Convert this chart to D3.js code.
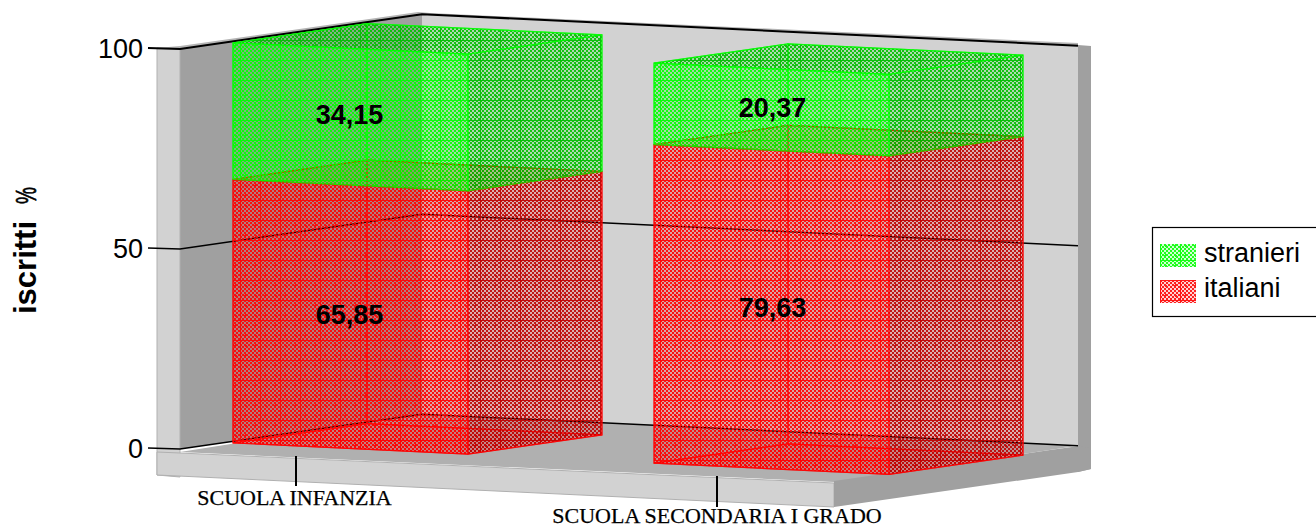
<!DOCTYPE html>
<html><head><meta charset="utf-8">
<script src="https://cdn.jsdelivr.net/npm/d3@7/dist/d3.min.js"></script>
<style>html,body{margin:0;padding:0;background:#fff}svg{display:block}
text{font-family:"Liberation Sans",Arial,sans-serif;fill:#000}</style></head><body>
<script>
const categories = ["SCUOLA INFANZIA", "SCUOLA SECONDARIA I GRADO"];
const italiani = [65.85, 79.63];
const stranieri = [34.15, 20.37];
const valueLabels = [["65,85", "79,63"], ["34,15", "20,37"]];
const yTicks = [0, 50, 100];
const seriesNames = ["italiani", "stranieri"];
const seriesColors = {italiani: "#ff0000", stranieri: "#00ff00"};

const W = 1316, H = 528;
const svg = d3.select("body").append("svg").attr("width", W).attr("height", H);
const defs = svg.append("defs");

const y = d3.scaleLinear().domain([0, 100]).range([449, 49]);
const u = d3.scaleBand().domain(categories).range([8, 664]).paddingInner(0.442);
const X0 = 180, SU = 0.048, SV = 0.144;
const DEPTH_FRONT = 45, DEPTH_BAR = 134, DEPTH = 242, UMAX = 656;
const P = (a, b, v) => [X0 + a + b, y(v) + a * SU - b * SV];
const pts = arr => arr.map(p => p.join(",")).join(" ");

function makePattern(id, color, dark) {
  const p = defs.append("pattern").attr("id", id).attr("patternUnits", "userSpaceOnUse")
    .attr("width", 20).attr("height", 20);
  p.append("rect").attr("width", 20).attr("height", 20).attr("fill", color).attr("fill-opacity", dark ? 0.12 : 0.17);
  for (let i = 0; i < 20; i++) for (let j = 0; j < 20; j++) {
    const cx = Math.abs((i % 10) - 5), cy = Math.abs((j % 10) - 5);
    const plus = (cx <= 1 && cy === 0) || (cy <= 1 && cx === 0);
    const on = (Math.floor(i / 2) + Math.floor(j / 2)) % 2 === 0 || plus;
    const line = i === 0 || j === 0;
    if (line || on) p.append("rect").attr("x", i).attr("y", j).attr("width", 1).attr("height", 1)
      .attr("fill", dark ? d3.color(color).darker(0.85) : color)
      .attr("fill-opacity", line ? 0.9 : 0.85);
  }
}
seriesNames.forEach(s => { makePattern("p-" + s, seriesColors[s], false); makePattern("d-" + s, seriesColors[s], true); });

// Walls and floor
const frame = svg.append("g");
const poly = (g, arr, fill, stroke) => g.append("polygon").attr("points", pts(arr)).attr("fill", fill).attr("stroke", stroke || "none");
// top highlight of the wall
poly(frame, [[157,48],[X0,46],[418,12],[430,13],[1078,43],[1078,46],[422,15],[X0,50]], "#b4b4b4");
// back wall and its right return
poly(frame, [P(0,DEPTH,100), P(UMAX,DEPTH,100), P(UMAX,DEPTH,0), P(0,DEPTH,0)], "#d2d2d2");
poly(frame, [[X0+UMAX+DEPTH,45],[1091,46],[1091,469],[X0+UMAX+DEPTH,472]], "#a0a0a0");
// left wall
poly(frame, [P(0,0,100), P(0,DEPTH,100), P(0,DEPTH,0), P(0,0,0)], "#a0a0a0");
poly(frame, [[157,48],[X0,49],[X0,477],[157,475]], "#d2d2d2", "#b0b0b0");
// floor
poly(frame, [[X0,452],[834,482],P(UMAX,DEPTH,0),P(0,DEPTH,0)], "#b0b0b0");
poly(frame, [[X0,453],[834,483],[834,507],[157,475],[157,452]], "#d2d2d2", "#b0b0b0");
poly(frame, [[834,481],[1050,450],[1079,446],[1091,448],[1091,469],[1078,472],[834,507]], "#a0a0a0");

// Gridlines
const grid = frame.append("g");
yTicks.forEach(t => {
  const top = t === 100;
  grid.append("polyline").attr("fill", "none").attr("stroke", "#000").attr("stroke-width", top ? 2 : 1.5)
    .attr("points", pts([[148, y(t) - 1], P(0,0,t), P(0,DEPTH,t), P(UMAX,DEPTH,t)]));
});

// Bars
const stacked = d3.stack().keys(seriesNames)(categories.map((c, i) => ({cat: c, italiani: italiani[i], stranieri: stranieri[i]})));
const bw = u.bandwidth();
const barG = svg.append("g");
function face(arr, pat, color, op) {
  barG.append("polygon").attr("points", pts(arr)).attr("fill", `url(#${pat})`).attr("fill-opacity", op || 1)
    .attr("stroke", color).attr("stroke-width", 1.2).attr("stroke-opacity", 0.75);
}
categories.forEach((c, ci) => {
  const a = u(c), b = a + bw, v0 = DEPTH_FRONT, v1 = DEPTH_FRONT + DEPTH_BAR;
  stacked.forEach(layer => {
    const s = layer.key, [h0, h1] = layer[ci];
    const col = seriesColors[s];
    // rear and underside faces first, drawn through the translucent front
    face([P(a,v1,h0), P(b,v1,h0), P(b,v1,h1), P(a,v1,h1)], "p-" + s, col, 0.3);
    face([P(a,v0,h0), P(a,v1,h0), P(a,v1,h1), P(a,v0,h1)], "p-" + s, col, 0.3);
    face([P(a,v0,h0), P(b,v0,h0), P(b,v1,h0), P(a,v1,h0)], "p-" + s, col, 0.8);
  });
  stacked.forEach(layer => {
    const s = layer.key, [h0, h1] = layer[ci];
    const col = seriesColors[s];
    face([P(a,v0,h1), P(b,v0,h1), P(b,v1,h1), P(a,v1,h1)], "d-" + s, col);
    face([P(b,v0,h0), P(b,v1,h0), P(b,v1,h1), P(b,v0,h1)], "d-" + s, col);
    face([P(a,v0,h0), P(b,v0,h0), P(b,v0,h1), P(a,v0,h1)], "p-" + s, col);
  });
});

// Value labels on the bars
const lab = svg.append("g").attr("text-anchor", "middle").attr("font-weight", "bold").attr("font-size", 27);
categories.forEach((c, ci) => {
  stacked.forEach((layer, li) => {
    const [h0, h1] = layer[ci];
    const mid = (h0 + h1) / 2;
    const cx = u(c) + bw / 2 + DEPTH_FRONT + X0 + (ci === 0 ? -1 : 1);
    lab.append("text").attr("x", cx).attr("y", y(mid) + u(c) * SU - DEPTH_FRONT * SV + 13).text(valueLabels[li][ci]);
  });
});

// Y axis
const axis = d3.axisLeft(y).tickValues(yTicks).tickSize(0).tickPadding(5);
const ag = svg.append("g").attr("transform", "translate(148,0)").call(axis);
ag.select(".domain").remove();
ag.selectAll("text").style("font-family", '"Liberation Sans",Arial,sans-serif').style("font-size", "27px").attr("dy", "0.32em");
svg.append("text").attr("transform", "translate(36,314) rotate(-90)")
  .attr("font-size", 31).attr("font-weight", "bold").text("iscritti");
svg.append("text").attr("transform", "translate(36,204) rotate(-90)")
  .attr("font-size", 30).attr("textLength", 17).attr("lengthAdjust", "spacingAndGlyphs")
  .attr("stroke", "#000").attr("stroke-width", 0.7).text("%");

// Category ticks and labels
const catY = [[456, 486, 294.5, 505], [476, 507, 717, 523]];
categories.forEach((c, i) => {
  const tx = i === 0 ? 296 : 717;
  svg.append("line").attr("x1", tx).attr("x2", tx).attr("y1", catY[i][0]).attr("y2", catY[i][1]).attr("stroke", "#000").attr("stroke-width", 2);
  svg.append("text").attr("x", catY[i][2]).attr("y", catY[i][3]).attr("text-anchor", "middle")
    .style("font-family", '"Liberation Serif","Times New Roman",serif').attr("font-size", 22)
    .attr("stroke", "#000").attr("stroke-width", 0.25).text(c);
});

// Legend
const lg = svg.append("g");
lg.append("rect").attr("x", 1152.5).attr("y", 227.5).attr("width", 170).attr("height", 89).attr("fill", "#fff").attr("stroke", "#000").attr("stroke-width", 1.2);
[...seriesNames].reverse().forEach((s, i) => {
  const yy = 244 + i * 36;
  lg.append("rect").attr("x", 1160).attr("y", yy).attr("width", 36).attr("height", 23).attr("fill", "url(#p-" + s + ")");
  lg.append("text").attr("x", 1204).attr("y", yy + 18 - i).attr("font-size", 27).text(s);
});
</script></body></html>
